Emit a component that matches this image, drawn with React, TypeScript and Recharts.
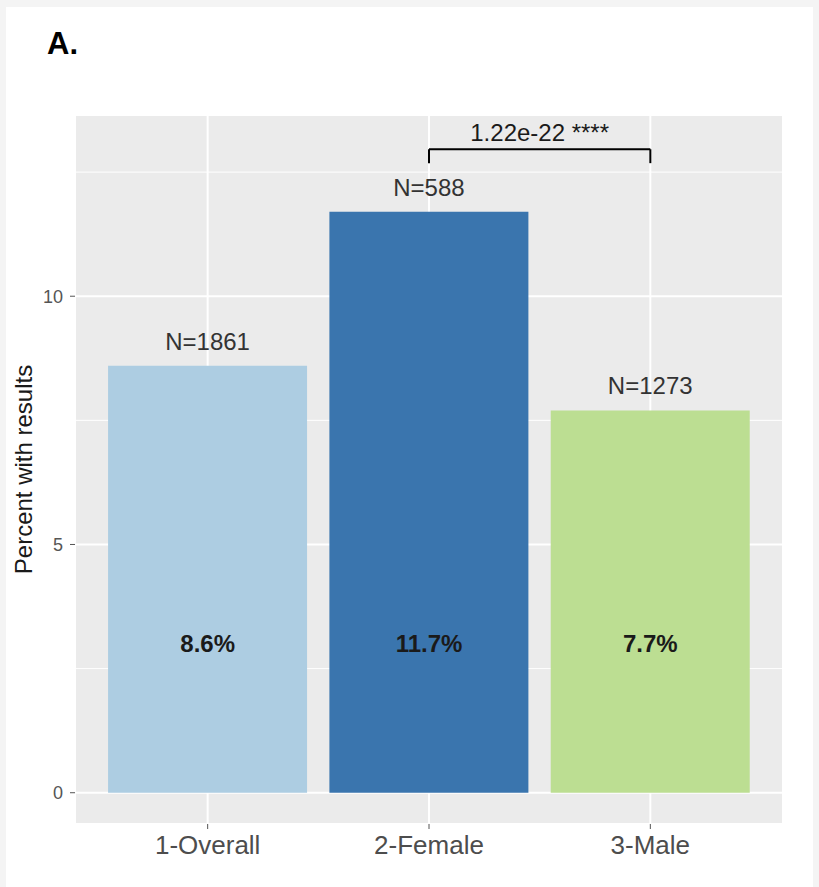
import React from 'react';
import { ComposedChart, Bar, Line, Cell, XAxis, YAxis, CartesianGrid, LabelList, ReferenceLine } from 'recharts';

// categories and values
const groups = ['1-Overall', '2-Female', '3-Male'];
const percents = [8.6, 11.7, 7.7];
const sampleSizes = [1861, 588, 1273];
const barColors = ['#ADCDE2', '#3A75AE', '#BCDE92'];
const labelHeight = [3, 3, 3];

// significance bracket between female and male
const bracketFrom = '2-Female';
const bracketTo = '3-Male';
const bracketY = 12.96;
const bracketTipY = 12.68;
const bracketText = '1.22e-22 ****';

const majorTicks = [0, 5, 10];
const minorTicks = [2.5, 7.5, 12.5];
const yDomain = [-0.63, 13.65];

const data = groups.map((g, i) => ({
  group: g,
  pct: percents[i],
  nLabel: `N=${sampleSizes[i]}`,
  pctLabel: `${percents[i].toFixed(1)}%`,
  labelY: labelHeight[i],
}));

const FONT = '"Liberation Sans", Arial, Helvetica, sans-serif';

const YLabel = ({ viewBox }: any) => {
  const cx = viewBox.x + 32;
  const cy = viewBox.y + viewBox.height / 2;
  return (
    <text
      x={cx}
      y={cy}
      transform={`rotate(-90, ${cx}, ${cy})`}
      textAnchor="middle"
      fontSize={24}
      fontFamily={FONT}
      fill="#1a1a1a"
    >
      Percent with results
    </text>
  );
};

const NoTick = () => <g />;

export default function App() {
  return (
    <div style={{ position: 'absolute', left: 0, top: 0, width: 819, height: 887, background: '#F4F4F4' }}>
      <div style={{ position: 'absolute', left: 6, top: 7, width: 807, height: 880, background: '#fff' }} />
      <svg style={{ position: 'absolute', left: 0, top: 0 }} width={200} height={80}>
        <text x={47} y={54} fontSize={31} fontWeight="bold" fontFamily={FONT} fill="#000">
          A.
        </text>
      </svg>
      <div style={{ position: 'absolute', left: 0, top: 0 }}>
        <ComposedChart
          width={819}
          height={887}
          data={data}
          margin={{ top: 115, right: 36, bottom: 0, left: 0 }}
          barCategoryGap="5%"
        >
          {/* minor grid from a silent second y axis, then major grid on top */}
          <CartesianGrid yAxisId="minor" fill="#EBEBEB" stroke="#fff" strokeWidth={1} vertical={false} />
          <CartesianGrid stroke="#fff" strokeWidth={2} />
          <XAxis
            dataKey="group"
            height={63}
            padding={{ left: 22, right: 22 }}
            axisLine={false}
            tickSize={5}
            tickMargin={7}
            tickLine={{ stroke: '#555' }}
            tick={{ fontSize: 26, fill: '#4D4D4D', fontFamily: FONT }}
          />
          <YAxis
            width={75}
            domain={yDomain}
            allowDataOverflow
            ticks={majorTicks}
            axisLine={false}
            tickSize={5}
            tickMargin={7}
            tickLine={{ stroke: '#555' }}
            tick={{ fontSize: 18, fill: '#555', fontFamily: FONT }}
            label={<YLabel />}
          />
          <YAxis
            yAxisId="minor"
            orientation="right"
            width={0}
            domain={yDomain}
            allowDataOverflow
            ticks={minorTicks}
            interval={0}
            axisLine={false}
            tickLine={false}
            tick={<NoTick />}
          />
          <Bar dataKey="pct" isAnimationActive={false}>
            {data.map((d, i) => (
              <Cell key={d.group} fill={barColors[i]} />
            ))}
            <LabelList dataKey="nLabel" position="top" offset={16} fill="#333" fontSize={24} fontFamily={FONT} />
          </Bar>
          <Line
            dataKey="labelY"
            stroke="none"
            dot={false}
            activeDot={false}
            isAnimationActive={false}
          >
            <LabelList
              dataKey="pctLabel"
              position="center"
              fill="#1a1a1a"
              fontSize={24}
              fontWeight="bold"
              fontFamily={FONT}
            />
          </Line>
          <ReferenceLine
            segment={[{ x: bracketFrom, y: bracketY }, { x: bracketTo, y: bracketY }]}
            stroke="#000"
            strokeWidth={2}
            label={{ value: bracketText, position: 'top', offset: 8, fill: '#1a1a1a', fontSize: 24, fontFamily: FONT }}
          />
          <ReferenceLine
            segment={[{ x: bracketFrom, y: bracketY }, { x: bracketFrom, y: bracketTipY }]}
            stroke="#000"
            strokeWidth={2}
          />
          <ReferenceLine
            segment={[{ x: bracketTo, y: bracketY }, { x: bracketTo, y: bracketTipY }]}
            stroke="#000"
            strokeWidth={2}
          />
        </ComposedChart>
      </div>
    </div>
  );
}
